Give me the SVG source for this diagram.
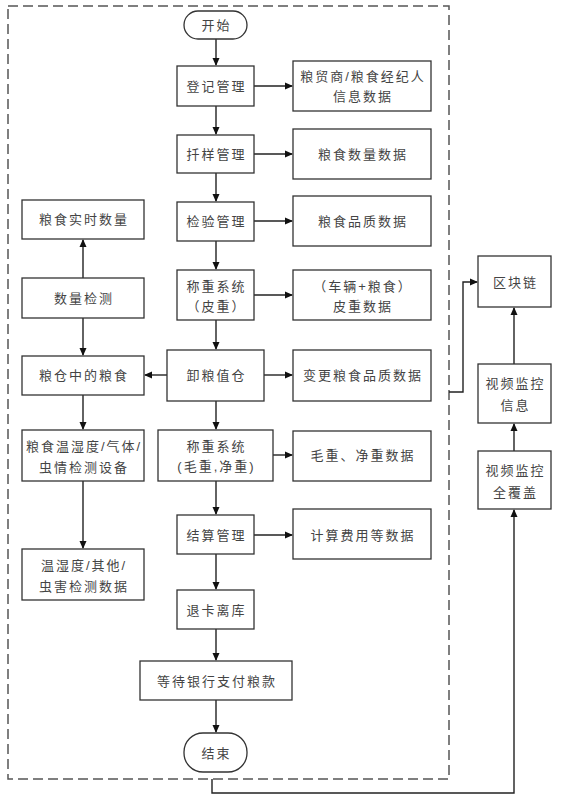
<svg xmlns="http://www.w3.org/2000/svg" width="562" height="800" viewBox="0 0 562 800">
<style>
.b{fill:#fff;stroke:#333;stroke-width:1.3}
.t{font-family:"Liberation Sans","Noto Sans CJK SC",sans-serif;font-size:13px;letter-spacing:2px;fill:#444;text-anchor:middle;dominant-baseline:central}
.c{fill:none;stroke:#222;stroke-width:1.4}
</style>
<defs>
<marker id="a" markerWidth="8" markerHeight="8" refX="7" refY="4" orient="auto" markerUnits="userSpaceOnUse">
<path d="M0,0.5 L8,4 L0,7.5 Z" fill="#111"/>
</marker>
</defs>
<rect x="8" y="6" width="441" height="773" fill="none" stroke="#555" stroke-width="1.5" stroke-dasharray="10,5"/>
<g id="connectors">
<path class="c" d="M216,39 V65" marker-end="url(#a)"/>
<path class="c" d="M216,106 V134" marker-end="url(#a)"/>
<path class="c" d="M216,173 V201" marker-end="url(#a)"/>
<path class="c" d="M216,241 V269" marker-end="url(#a)"/>
<path class="c" d="M216,320 V349" marker-end="url(#a)"/>
<path class="c" d="M216,401 V429" marker-end="url(#a)"/>
<path class="c" d="M216,481 V514" marker-end="url(#a)"/>
<path class="c" d="M216,554 V589" marker-end="url(#a)"/>
<path class="c" d="M216,629 V660" marker-end="url(#a)"/>
<path class="c" d="M216,700 V732" marker-end="url(#a)"/>
<path class="c" d="M254,86 H292" marker-end="url(#a)"/>
<path class="c" d="M254,154 H292" marker-end="url(#a)"/>
<path class="c" d="M254,221 H292" marker-end="url(#a)"/>
<path class="c" d="M254,295 H292" marker-end="url(#a)"/>
<path class="c" d="M264,375 H292" marker-end="url(#a)"/>
<path class="c" d="M273,455 H292" marker-end="url(#a)"/>
<path class="c" d="M254,535 H292" marker-end="url(#a)"/>
<path class="c" d="M167,375 H145" marker-end="url(#a)"/>
<path class="c" d="M83,278 V240" marker-end="url(#a)"/>
<path class="c" d="M83,318 V355" marker-end="url(#a)"/>
<path class="c" d="M83,395 V429" marker-end="url(#a)"/>
<path class="c" d="M83,481 V548" marker-end="url(#a)"/>
<path class="c" d="M449,392 H463 V282 H477" marker-end="url(#a)"/>
<path class="c" d="M514,451 V424" marker-end="url(#a)"/>
<path class="c" d="M514,364 V308" marker-end="url(#a)"/>
<path class="c" d="M212,779 V793 H514 V510" marker-end="url(#a)"/>
</g>
<g id="start"><rect class="b" x="184" y="11" width="63" height="28" rx="14"/><text class="t" x="216.5" y="25">开始</text></g>
<g id="reg"><rect class="b" x="177" y="66" width="77" height="40"/><text class="t" x="216.5" y="86">登记管理</text></g>
<g id="regdata"><rect class="b" x="293" y="61" width="138" height="50"/><text class="t" x="363" y="76">粮贸商/粮食经纪人</text><text class="t" x="363" y="96">信息数据</text></g>
<g id="sample"><rect class="b" x="177" y="135" width="77" height="38"/><text class="t" x="216.5" y="154">扦样管理</text></g>
<g id="sampledata"><rect class="b" x="293" y="129" width="138" height="50"/><text class="t" x="363" y="154">粮食数量数据</text></g>
<g id="inspect"><rect class="b" x="177" y="202" width="77" height="39"/><text class="t" x="216.5" y="221">检验管理</text></g>
<g id="inspectdata"><rect class="b" x="293" y="196" width="138" height="50"/><text class="t" x="363" y="221">粮食品质数据</text></g>
<g id="tare"><rect class="b" x="177" y="270" width="77" height="50"/><text class="t" x="216.5" y="286">称重系统</text><text class="t" x="216.5" y="306">（皮重）</text></g>
<g id="taredata"><rect class="b" x="293" y="270" width="138" height="50"/><text class="t" x="363" y="286">（车辆+粮食）</text><text class="t" x="363" y="306">皮重数据</text></g>
<g id="unload"><rect class="b" x="167" y="350" width="97" height="51"/><text class="t" x="216.5" y="375">卸粮值仓</text></g>
<g id="unloaddata"><rect class="b" x="293" y="350" width="138" height="51"/><text class="t" x="363" y="375">变更粮食品质数据</text></g>
<g id="realtime"><rect class="b" x="22" y="200" width="122" height="39"/><text class="t" x="84" y="219">粮食实时数量</text></g>
<g id="qty"><rect class="b" x="22" y="278" width="122" height="40"/><text class="t" x="84" y="298">数量检测</text></g>
<g id="grain"><rect class="b" x="22" y="356" width="122" height="39"/><text class="t" x="84" y="375">粮仓中的粮食</text></g>
<g id="sensor"><rect class="b" x="22" y="430" width="122" height="51"/><text class="t" x="84" y="446">粮食温湿度/气体/</text><text class="t" x="84" y="467">虫情检测设备</text></g>
<g id="sensordata"><rect class="b" x="22" y="549" width="122" height="51"/><text class="t" x="84" y="565">温湿度/其他/</text><text class="t" x="84" y="586">虫害检测数据</text></g>
<g id="gross"><rect class="b" x="158" y="430" width="115" height="51"/><text class="t" x="216.5" y="446">称重系统</text><text class="t" x="216.5" y="466">(毛重,净重)</text></g>
<g id="grossdata"><rect class="b" x="293" y="431" width="138" height="50"/><text class="t" x="363" y="455">毛重、净重数据</text></g>
<g id="settle"><rect class="b" x="177" y="515" width="77" height="39"/><text class="t" x="216.5" y="535">结算管理</text></g>
<g id="settledata"><rect class="b" x="293" y="509" width="138" height="50"/><text class="t" x="363" y="535">计算费用等数据</text></g>
<g id="exit"><rect class="b" x="177" y="590" width="77" height="39"/><text class="t" x="216.5" y="610">退卡离库</text></g>
<g id="pay"><rect class="b" x="140" y="661" width="152" height="39"/><text class="t" x="217" y="681">等待银行支付粮款</text></g>
<g id="end"><rect class="b" x="184" y="733" width="63" height="39" rx="19"/><text class="t" x="216.5" y="753">结束</text></g>
<g id="chain"><rect class="b" x="478" y="256" width="73" height="51"/><text class="t" x="515.5" y="282">区块链</text></g>
<g id="videoinfo"><rect class="b" x="478" y="364" width="73" height="59"/><text class="t" x="515.5" y="383">视频监控</text><text class="t" x="515.5" y="405">信息</text></g>
<g id="videocover"><rect class="b" x="478" y="451" width="73" height="58"/><text class="t" x="515.5" y="470">视频监控</text><text class="t" x="515.5" y="492">全覆盖</text></g>
</svg>
